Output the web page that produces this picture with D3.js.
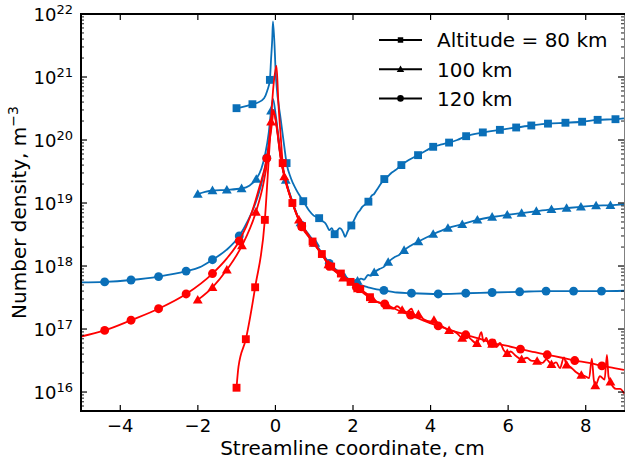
<!DOCTYPE html>
<html>
<head>
<meta charset="utf-8">
<script src="https://cdn.jsdelivr.net/npm/d3@7"></script>
<style>
  body { margin: 0; background: #fff; }
  svg { display: block; }
  text { font-family: "DejaVu Sans", sans-serif; fill: #000; }
</style>
</head>
<body>
<svg id="chart" width="625" height="464"></svg>
<script>
// Tick values and labels
const xTicks = [-4, -2, 0, 2, 4, 6, 8];
const yDecades = [16, 17, 18, 19, 20, 21, 22];
const legendLabels = ["Altitude = 80 km", "100 km", "120 km"];

// Each point: [streamline coordinate (cm), number density (m^-3), marker flag]
const blue80 = [
  [-0.99, 3.2e20, 1], [-0.8, 3.4e20], [-0.58, 3.7e20, 1], [-0.45, 3.9e20], [-0.28, 4.6e20],
  [-0.2, 6.0e20], [-0.13, 9.0e20, 1], [-0.1, 1.9e21], [-0.07, 3.9e21], [-0.05, 7.6e21],
  [0.03, 9.0e20], [0.15, 2.1e20], [0.24, 8.0e19], [0.30, 4.3e19, 1], [0.41, 2.5e19],
  [0.54, 1.66e19], [0.73, 1.07e19, 1], [0.88, 7.6e18], [1.0, 6.3e18], [1.14, 5.75e18, 1],
  [1.22, 5.2e18], [1.31, 4.7e18], [1.36, 4.1e18], [1.40, 3.7e18], [1.47, 4.0e18],
  [1.54, 3.2e18, 1], [1.6, 3.6e18], [1.67, 4.0e18], [1.72, 3.8e18], [1.77, 3.3e18],
  [1.81, 2.9e18], [1.87, 3.5e18], [1.92, 4.0e18], [1.97, 4.4e18, 1], [2.05, 5.5e18],
  [2.13, 6.9e18], [2.19, 7.6e18], [2.25, 8.7e18], [2.33, 9.5e18], [2.41, 1.05e19, 1],
  [2.49, 1.3e19], [2.56, 1.4e19], [2.62, 1.6e19], [2.68, 1.82e19], [2.75, 2.1e19],
  [2.82, 2.4e19, 1], [2.9, 2.6e19], [3.0, 3.0e19], [3.1, 3.3e19], [3.26, 4.0e19, 1],
  [3.45, 4.8e19], [3.69, 5.75e19, 1], [3.9, 6.8e19], [4.08, 7.8e19, 1], [4.3, 8.5e19],
  [4.49, 9.1e19, 1], [4.7, 1.0e20], [4.93, 1.15e20, 1], [5.36, 1.32e20, 1], [5.80, 1.45e20, 1],
  [6.22, 1.58e20, 1], [6.61, 1.70e20, 1], [7.04, 1.82e20, 1], [7.49, 1.88e20, 1],
  [7.92, 1.95e20, 1], [8.32, 2.09e20, 1], [8.78, 2.14e20, 1], [9.0, 2.2e20]
];

const blue100 = [
  [-1.99, 1.38e19, 1], [-1.8, 1.5e19], [-1.61, 1.58e19, 1], [-1.24, 1.62e19, 1], [-0.86, 1.7e19, 1],
  [-0.65, 1.9e19], [-0.48, 2.4e19, 1], [-0.35, 3.5e19], [-0.25, 6.0e19], [-0.16, 1.3e20],
  [-0.10, 2.9e20, 1], [-0.05, 4.5e20], [0.02, 2.5e20], [0.1, 1.0e20], [0.2, 3.6e19],
  [0.28, 2.3e19, 1], [0.45, 1.05e19], [0.66, 4.9e18, 1], [0.85, 3.3e18], [1.04, 2.3e18, 1],
  [1.2, 1.65e18], [1.42, 1.08e18, 1], [1.6, 8.2e17], [1.80, 6.6e17, 1], [1.95, 5.9e17],
  [2.05, 5.6e17], [2.13, 5.8e17, 1], [2.22, 6.3e17], [2.3, 6.1e17], [2.4, 7.2e17],
  [2.47, 7.0e17], [2.56, 7.9e17, 1], [2.7, 9.0e17], [2.8, 9.6e17], [2.92, 1.15e18, 1],
  [3.1, 1.4e18], [3.2, 1.5e18], [3.33, 1.78e18, 1], [3.5, 2.1e18], [3.70, 2.45e18, 1],
  [4.08, 3.2e18, 1], [4.46, 4.0e18, 1], [4.83, 4.6e18, 1], [5.22, 5.4e18, 1], [5.60, 6.0e18, 1],
  [5.99, 6.5e18, 1], [6.36, 6.9e18, 1], [6.74, 7.4e18, 1], [7.13, 7.9e18, 1], [7.52, 8.3e18, 1],
  [7.89, 8.7e18, 1], [8.28, 9.1e18, 1], [8.65, 9.2e18, 1], [9.0, 9.5e18]
];

const blue120 = [
  [-5.0, 5.5e17], [-4.39, 5.6e17, 1], [-3.71, 6.0e17, 1], [-3.0, 6.8e17, 1], [-2.29, 8.3e17, 1],
  [-1.95, 9.5e17], [-1.61, 1.26e18, 1], [-1.25, 1.8e18], [-0.92, 3.0e18, 1], [-0.7, 5.2e18],
  [-0.5, 1.0e19], [-0.35, 2.0e19], [-0.21, 5.2e19, 1], [-0.12, 1.3e20], [-0.05, 3.0e20],
  [0.03, 2.0e20], [0.12, 7.0e19], [0.24, 2.8e19], [0.45, 1.05e19], [0.69, 4.4e18, 1],
  [0.97, 2.5e18], [1.21, 1.6e18], [1.40, 1.1e18, 1], [1.66, 8.0e17], [1.87, 6.4e17],
  [2.10, 5.3e17, 1], [2.4, 4.6e17], [2.81, 4.1e17, 1], [3.15, 3.8e17], [3.52, 3.7e17, 1],
  [4.21, 3.6e17, 1], [4.92, 3.7e17, 1], [5.60, 3.8e17, 1], [6.31, 3.9e17, 1], [6.99, 4.0e17, 1],
  [7.70, 4.0e17, 1], [8.42, 4.0e17, 1], [9.0, 4.05e17]
];

const red80 = [
  [-0.99, 1.17e16, 1], [-0.94, 2.5e16], [-0.75, 6.9e16, 1], [-0.51, 4.6e17, 1], [-0.26, 5.4e18, 1],
  [-0.15, 6.2e19], [-0.04, 7.0e20], [0.04, 1.5e21], [0.09, 3.8e20], [0.15, 1.12e20],
  [0.20, 4.3e19, 1], [0.32, 1.8e19], [0.45, 1.0e19, 1], [0.70, 4.3e18, 1], [0.97, 2.45e18, 1],
  [1.21, 1.55e18, 1], [1.45, 9.8e17, 1], [1.70, 7.6e17, 1], [1.95, 5.6e17, 1], [2.2, 4.3e17, 1],
  [2.45, 3.2e17, 1], [2.6, 2.8e17]
];

const red100 = [
  [-1.99, 2.9e17, 1], [-1.61, 4.6e17, 1], [-1.24, 8.7e17, 1], [-0.85, 2.1e18, 1], [-0.49, 7.2e18, 1],
  [-0.3, 2.0e19], [-0.2, 4.5e19], [-0.10, 1.95e20, 1], [-0.04, 3.0e20], [0.05, 1.5e20],
  [0.15, 5.0e19], [0.24, 2.63e19, 1], [0.45, 1.0e19], [0.62, 5.4e18, 1], [0.85, 3.2e18],
  [1.00, 2.3e18, 1], [1.2, 1.55e18], [1.38, 1.05e18, 1], [1.6, 7.8e17], [1.76, 6.5e17, 1],
  [1.95, 5.4e17], [2.14, 4.4e17, 1], [2.35, 3.7e17], [2.52, 2.95e17, 1], [2.7, 2.6e17],
  [2.9, 2.35e17, 1], [3.05, 2.1e17], [3.15, 2.3e17], [3.28, 2.0e17, 1], [3.4, 1.86e17],
  [3.52, 2.1e17], [3.6, 1.66e17], [3.70, 1.7e17, 1], [3.85, 1.41e17], [4.0, 1.32e17],
  [4.10, 1.38e17, 1], [4.25, 1.15e17], [4.35, 1.07e17], [4.49, 9.5e16, 1], [4.6, 9.3e16],
  [4.7, 8.5e16], [4.83, 7.2e16, 1], [4.95, 7.9e16], [5.05, 6.9e16], [5.21, 5.9e16, 1],
  [5.32, 8.9e16], [5.38, 6.3e16], [5.45, 7.2e16], [5.52, 5.5e16], [5.6, 5.75e16, 1],
  [5.66, 6.8e16], [5.72, 5.2e16], [5.8, 6.0e16], [5.9, 4.6e16], [5.99, 4.1e16, 1],
  [6.08, 4.4e16], [6.2, 3.8e16], [6.36, 3.3e16, 1], [6.5, 3.5e16], [6.6, 3.16e16],
  [6.76, 3.1e16, 1], [6.9, 2.9e16], [7.0, 3.3e16], [7.13, 2.75e16, 1], [7.25, 2.95e16],
  [7.35, 2.4e16], [7.45, 3.55e16], [7.52, 2.7e16, 1], [7.62, 2.5e16], [7.75, 2.1e16],
  [7.90, 1.86e16, 1], [8.0, 1.78e16], [8.1, 1.66e16], [8.17, 3.4e16], [8.22, 1.58e16],
  [8.26, 1.26e16, 1], [8.38, 1.78e16], [8.5, 1.58e16], [8.56, 3.9e16], [8.6, 1.78e16],
  [8.65, 1.45e16, 1], [8.8, 1.12e16], [8.9, 1.12e16], [9.0, 9.5e15]
];

const red120 = [
  [-5.0, 7.6e16], [-4.39, 9.5e16, 1], [-3.71, 1.38e17, 1], [-3.0, 2.1e17, 1], [-2.29, 3.6e17, 1],
  [-1.61, 7.6e17, 1], [-1.25, 1.3e18], [-0.92, 2.5e18, 1], [-0.6, 7.0e18], [-0.4, 1.8e19],
  [-0.21, 5.1e19, 1], [-0.1, 1.4e20], [-0.03, 2.8e20], [0.05, 1.6e20], [0.15, 5.2e19],
  [0.3, 2.0e19], [0.45, 1.0e19], [0.69, 4.2e18, 1], [0.97, 2.45e18], [1.21, 1.55e18],
  [1.40, 1.0e18, 1], [1.66, 7.4e17], [1.87, 6.0e17], [2.10, 4.6e17, 1], [2.4, 3.3e17],
  [2.6, 2.75e17], [2.83, 2.5e17, 1], [3.2, 1.95e17], [3.50, 1.66e17, 1], [3.85, 1.35e17],
  [4.21, 1.12e17, 1], [4.55, 9.5e16], [4.92, 8.1e16, 1], [5.25, 7.1e16], [5.60, 6.0e16, 1],
  [6.0, 5.4e16], [6.33, 4.8e16, 1], [6.7, 4.3e16], [7.02, 3.9e16, 1], [7.4, 3.5e16],
  [7.73, 3.16e16, 1], [8.1, 2.9e16], [8.43, 2.6e16, 1], [8.75, 2.4e16], [9.0, 2.24e16]
];

const BLUE = "#0a6fb8", RED = "#ff0000";
const series = [
  { data: blue80, color: BLUE, marker: "square" },
  { data: blue100, color: BLUE, marker: "triangle" },
  { data: blue120, color: BLUE, marker: "circle" },
  { data: red80, color: RED, marker: "square" },
  { data: red100, color: RED, marker: "triangle" },
  { data: red120, color: RED, marker: "circle" }
];

const W = 625, H = 464;
const plot = { left: 81, right: 624, top: 14, bottom: 411 };

const x = d3.scaleLinear().domain([-5, 9]).range([plot.left, plot.right]);
const y = d3.scaleLog().domain([5e15, 1e22]).range([plot.bottom, plot.top]);

const svg = d3.select("#chart");

svg.append("defs").append("clipPath").attr("id", "plot-clip")
  .append("rect")
  .attr("x", plot.left).attr("y", plot.top)
  .attr("width", plot.right - plot.left + 1).attr("height", plot.bottom - plot.top);

// marker shapes
const symbolFor = {
  square: d3.symbol().type(d3.symbolSquare).size(62),
  triangle: d3.symbol().type(d3.symbolTriangle).size(42),
  circle: d3.symbol().type(d3.symbolCircle).size(62)
};
const legendSymbol = {
  square: d3.symbol().type(d3.symbolSquare).size(30),
  triangle: d3.symbol().type(d3.symbolTriangle).size(24),
  circle: d3.symbol().type(d3.symbolCircle).size(34)
};

const line = d3.line()
  .x(d => x(d[0]))
  .y(d => y(d[1]))
  .curve(d3.curveMonotoneX);

const plotG = svg.append("g").attr("clip-path", "url(#plot-clip)");

series.forEach(s => {
  const g = plotG.append("g");
  g.append("path")
    .datum(s.data)
    .attr("d", line)
    .attr("fill", "none")
    .attr("stroke", s.color)
    .attr("stroke-width", 1.8)
    .attr("stroke-linejoin", "round");
  g.selectAll("path.mk")
    .data(s.data.filter(d => d[2]))
    .join("path")
    .attr("class", "mk")
    .attr("d", symbolFor[s.marker])
    .attr("transform", d => {
      const dy = s.marker === "triangle" ? 0.8 : 0;
      return `translate(${x(d[0])},${y(d[1]) + dy})`;
    })
    .attr("fill", s.color);
});

// ---- axes ----
const axisG = svg.append("g");

// bottom ticks and labels
const bottomAxis = d3.axisBottom(x).tickValues(xTicks).tickSize(-6).tickPadding(8)
  .tickFormat(d3.format("d"));
const gb = axisG.append("g").attr("transform", `translate(0,${plot.bottom})`).call(bottomAxis);
gb.select(".domain").remove();
gb.selectAll("text").attr("font-size", 18).attr("font-family", "DejaVu Sans").attr("fill", "#000");
gb.selectAll("line").attr("stroke", "#000").attr("stroke-width", 1.2);

// top ticks
const gt = axisG.append("g").attr("transform", `translate(0,${plot.top})`)
  .call(d3.axisTop(x).tickValues(xTicks).tickSize(-6).tickFormat(""));
gt.select(".domain").remove();
gt.selectAll("line").attr("stroke", "#000").attr("stroke-width", 1.2);

// log minor ticks
const minorVals = [];
for (let e = 15; e <= 21; e++) {
  for (let m = 2; m <= 9; m++) {
    const v = m * Math.pow(10, e);
    if (v >= 5e15 && v <= 1e22) minorVals.push(v);
  }
}
const majorVals = yDecades.map(e => Math.pow(10, e));

[["left", plot.left, 1], ["right", plot.right, -1]].forEach(([side, px, dir]) => {
  axisG.append("g").selectAll("line.maj").data(majorVals).join("line")
    .attr("x1", px).attr("x2", px + dir * 6)
    .attr("y1", d => y(d)).attr("y2", d => y(d))
    .attr("stroke", "#000").attr("stroke-width", 1.2);
  axisG.append("g").selectAll("line.min").data(minorVals).join("line")
    .attr("x1", px).attr("x2", px + dir * 3)
    .attr("y1", d => y(d)).attr("y2", d => y(d))
    .attr("stroke", "#000").attr("stroke-width", 0.9);
});

// y tick labels 10^n
yDecades.forEach(e => {
  const t = axisG.append("text")
    .attr("x", 73)
    .attr("y", y(Math.pow(10, e)) + 6.5)
    .attr("text-anchor", "end")
    .attr("font-size", 18);
  t.append("tspan").text("10");
  t.append("tspan").attr("font-size", 13).attr("dy", -7).text(String(e));
});

// spines
axisG.append("line").attr("x1", plot.left).attr("x2", plot.left)
  .attr("y1", plot.top - 1).attr("y2", plot.bottom + 1).attr("stroke", "#000").attr("stroke-width", 2);
axisG.append("line").attr("x1", plot.left - 1).attr("x2", W)
  .attr("y1", plot.top).attr("y2", plot.top).attr("stroke", "#000").attr("stroke-width", 2);
axisG.append("line").attr("x1", plot.left - 1).attr("x2", W)
  .attr("y1", plot.bottom).attr("y2", plot.bottom).attr("stroke", "#000").attr("stroke-width", 2);
axisG.append("line").attr("x1", 625).attr("x2", 625)
  .attr("y1", plot.top).attr("y2", plot.bottom).attr("stroke", "#000").attr("stroke-width", 1);

// axis titles
svg.append("text")
  .attr("x", (plot.left + plot.right) / 2)
  .attr("y", 455)
  .attr("text-anchor", "middle")
  .attr("font-size", 20)
  .text("Streamline coordinate, cm");

const yl = svg.append("text")
  .attr("transform", `translate(26,${(plot.top + plot.bottom) / 2}) rotate(-90)`)
  .attr("text-anchor", "middle")
  .attr("font-size", 20);
yl.append("tspan").text("Number density, m");
yl.append("tspan").attr("font-size", 14).attr("dy", -8).text("\u22123");

// legend
const legendMarkers = ["square", "triangle", "circle"];
const legend = svg.append("g");
legendLabels.forEach((lab, i) => {
  const cy = 40 + i * 29.2;
  legend.append("line").attr("x1", 379).attr("x2", 422).attr("y1", cy).attr("y2", cy)
    .attr("stroke", "#000").attr("stroke-width", 2);
  legend.append("path").attr("d", legendSymbol[legendMarkers[i]])
    .attr("transform", `translate(400.5,${cy + (legendMarkers[i] === "triangle" ? 0.6 : 0)})`)
    .attr("fill", "#000");
  legend.append("text").attr("x", 437).attr("y", cy + 7.3).attr("font-size", 20).text(lab);
});
</script>
</body>
</html>
